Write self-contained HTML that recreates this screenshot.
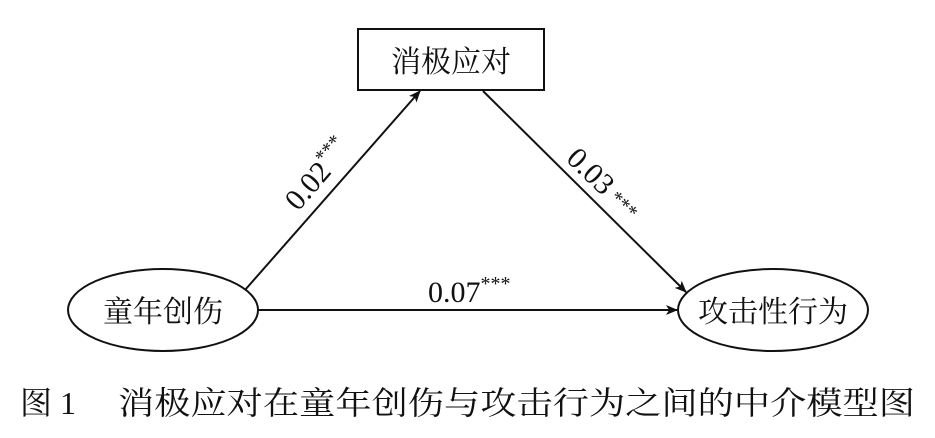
<!DOCTYPE html>
<html><head><meta charset="utf-8"><style>
html,body{margin:0;padding:0;background:#fff;width:935px;height:438px;overflow:hidden}
svg{display:block}
text{font-family:"Liberation Serif","Noto Serif CJK SC",serif;fill:#111}
.n{font-family:"Liberation Serif",serif}
</style></head><body>
<svg width="935" height="438" viewBox="0 0 935 438">
<defs><marker id="a" markerWidth="12" markerHeight="10" refX="11" refY="5" orient="auto" markerUnits="userSpaceOnUse"><path d="M0,0 L12,5 L0,10 L3,5 Z" fill="#111"/></marker></defs>
<rect x="358" y="29" width="186" height="61" fill="#fff" stroke="#111" stroke-width="2"/>
<text x="451" y="72" font-size="30" text-anchor="middle">消极应对</text>
<ellipse cx="163" cy="310" rx="95" ry="41" fill="#fff" stroke="#111" stroke-width="2"/>
<text x="163" y="322" font-size="30" text-anchor="middle">童年创伤</text>
<ellipse cx="773" cy="310" rx="95" ry="41" fill="#fff" stroke="#111" stroke-width="2"/>
<text x="773" y="322" font-size="30" text-anchor="middle">攻击性行为</text>
<line x1="245" y1="290" x2="420" y2="91" stroke="#111" stroke-width="2" marker-end="url(#a)"/>
<line x1="483" y1="91" x2="686" y2="292" stroke="#111" stroke-width="2" marker-end="url(#a)"/>
<line x1="258" y1="310" x2="677" y2="310" stroke="#111" stroke-width="2" marker-end="url(#a)"/>
<text class="n" font-size="30" transform="translate(298,212) rotate(-49)"><tspan class="n">0.02</tspan><tspan font-size="20" dy="-12">***</tspan></text>
<text class="n" font-size="30" transform="translate(565,160) rotate(44)"><tspan class="n">0.03</tspan><tspan font-size="20" dx="6" dy="-2">***</tspan></text>
<text class="n" x="428" y="302" font-size="30"><tspan class="n">0.07</tspan><tspan font-size="20" dy="-12">***</tspan></text>
<text x="20" y="414" font-size="32">图 1</text>
<text x="118" y="414" font-size="32" textLength="797" lengthAdjust="spacingAndGlyphs">消极应对在童年创伤与攻击行为之间的中介模型图</text>
</svg>
</body></html>
